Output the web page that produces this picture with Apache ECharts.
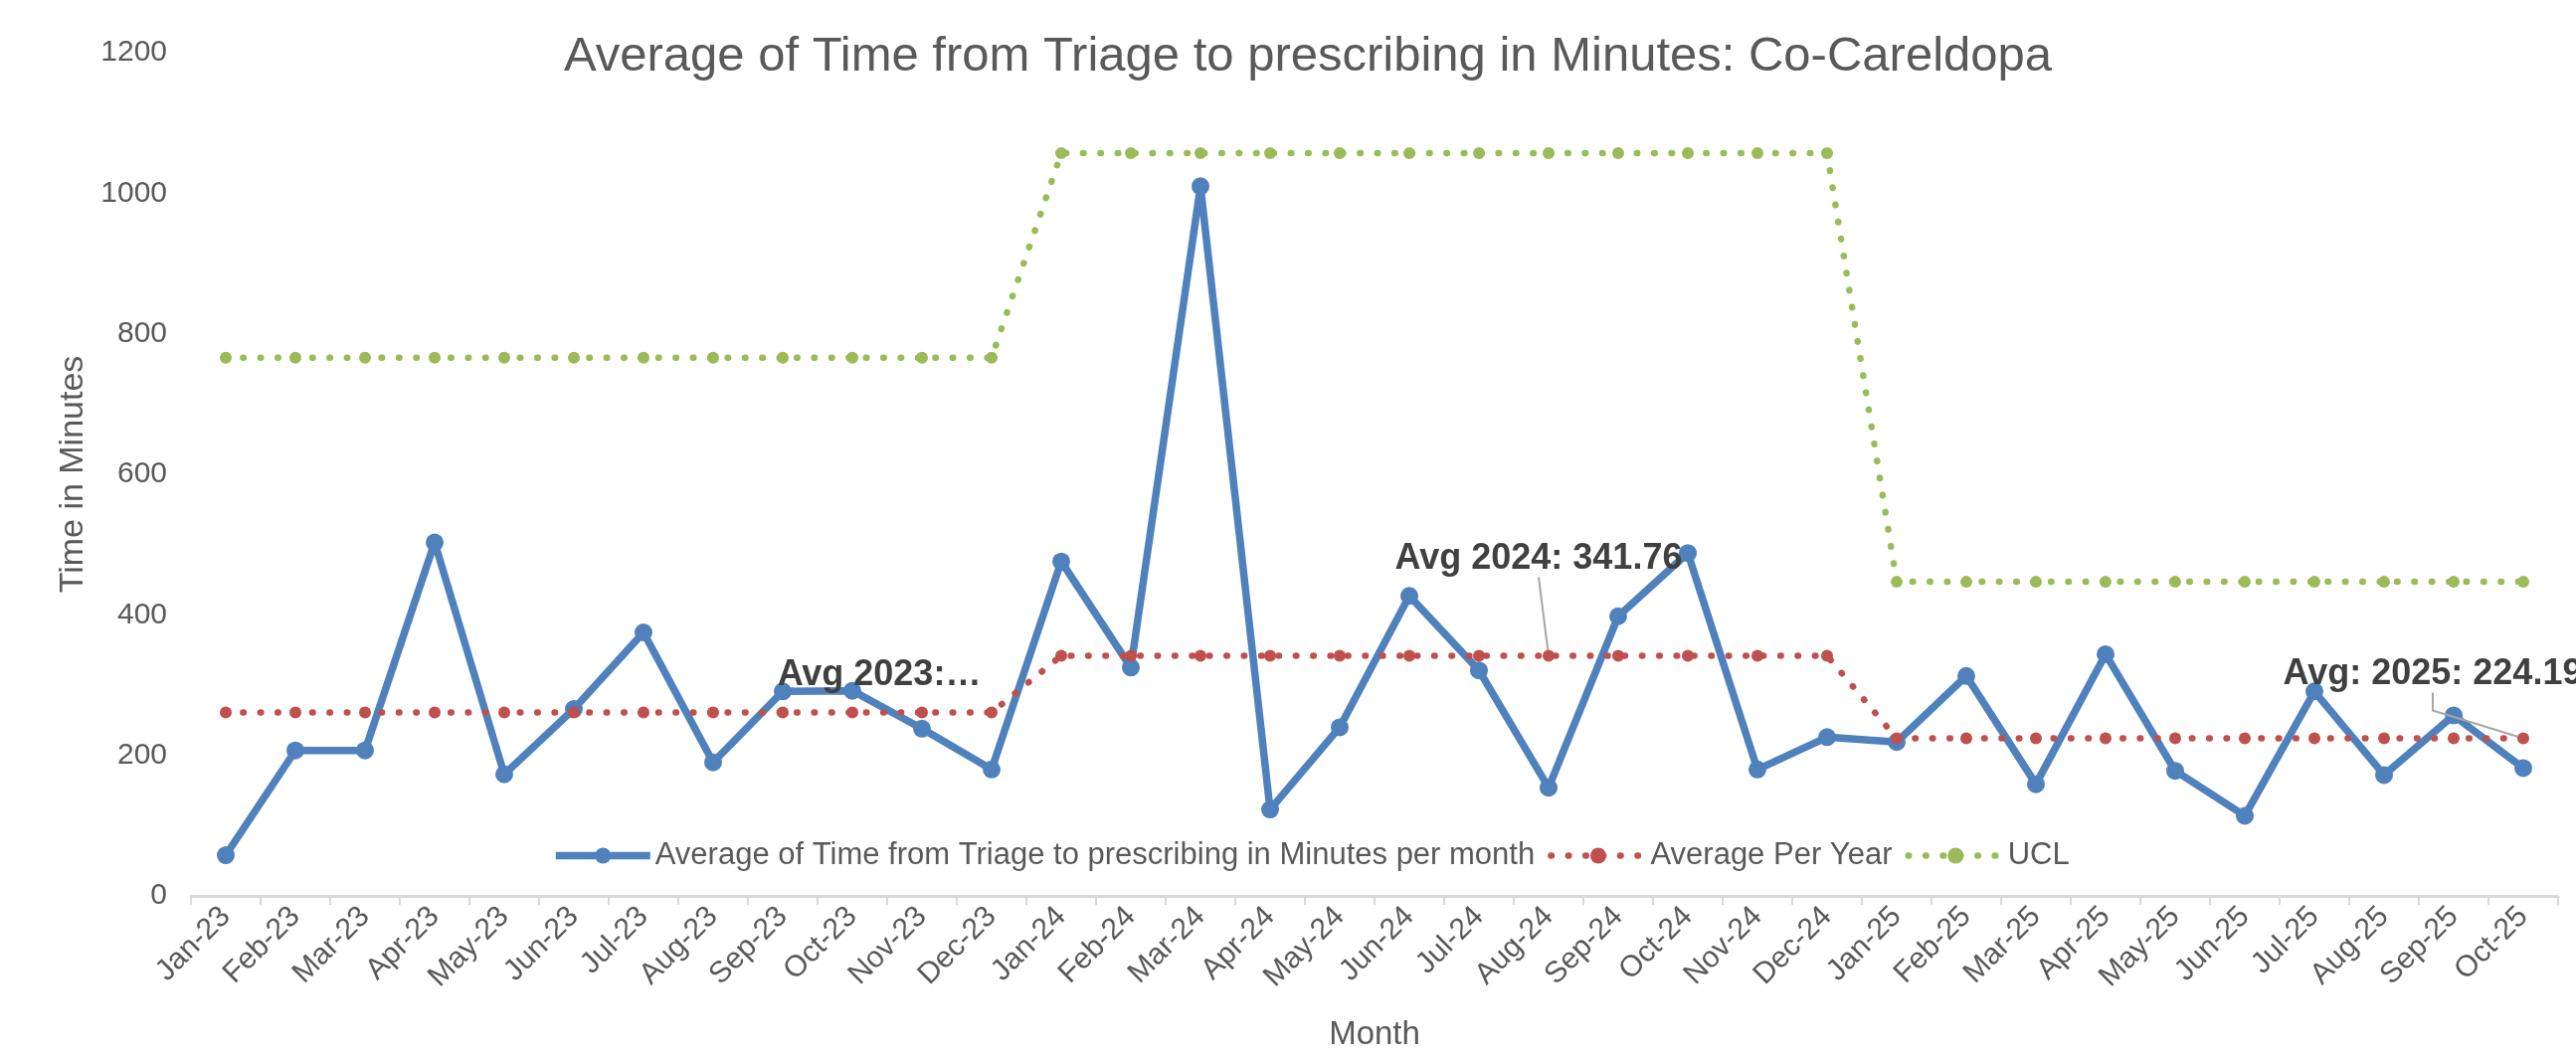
<!DOCTYPE html>
<html>
<head>
<meta charset="utf-8">
<script src="https://cdn.jsdelivr.net/npm/echarts@6/dist/echarts.min.js"></script>
<style>
html,body{margin:0;padding:0;background:#fff;}
#chart{width:2590px;height:1064px;}
</style>
</head>
<body>
<div id="chart"></div>
<script>
// ---- data ----
var months = ['Jan-23','Feb-23','Mar-23','Apr-23','May-23','Jun-23','Jul-23','Aug-23','Sep-23','Oct-23','Nov-23','Dec-23',
              'Jan-24','Feb-24','Mar-24','Apr-24','May-24','Jun-24','Jul-24','Aug-24','Sep-24','Oct-24','Nov-24','Dec-24',
              'Jan-25','Feb-25','Mar-25','Apr-25','May-25','Jun-25','Jul-25','Aug-25','Sep-25','Oct-25'];
var monthlyAvg = [58, 207, 207, 503, 173, 266, 375, 190, 291, 292, 238, 180,
                  476, 325, 1010, 123, 240, 427, 321, 154, 398, 488, 180, 226,
                  219, 313, 159, 344, 178, 114, 291, 172, 257, 182];
var yearAvg = [261, 261, 261, 261, 261, 261, 261, 261, 261, 261, 261, 261,
               341.76, 341.76, 341.76, 341.76, 341.76, 341.76, 341.76, 341.76, 341.76, 341.76, 341.76, 341.76,
               224.19, 224.19, 224.19, 224.19, 224.19, 224.19, 224.19, 224.19, 224.19, 224.19];
var ucl = [766, 766, 766, 766, 766, 766, 766, 766, 766, 766, 766, 766,
           1057, 1057, 1057, 1057, 1057, 1057, 1057, 1057, 1057, 1057, 1057, 1057,
           447, 447, 447, 447, 447, 447, 447, 447, 447, 447];
var yTicks = [0, 200, 400, 600, 800, 1000, 1200];
var seriesNames = ['Average of Time from Triage to prescribing in Minutes per month', 'Average Per Year', 'UCL'];
var annotIndex = [9, 19, 33];
var annotText = ['Avg 2023:\u2026', 'Avg 2024: 341.76', 'Avg: 2025: 224.19'];
var annotShift = [[27, -37], [-10, -97], [-91, -64]];
var annotLine = [false, true, true];
var annotLineLen2 = [0, 0, 18];

var FONT = "'Liberation Sans', Arial, sans-serif";
var TXT = '#595959';

var yearData = yearAvg.map(function (v, i) {
  var k = annotIndex.indexOf(i);
  if (k < 0) return v;
  return {
    value: v,
    label: {
      show: true, position: 'inside', formatter: annotText[k],
      fontFamily: FONT, fontSize: 36, fontWeight: 'bold', color: '#404040'
    },
    labelLine: { show: annotLine[k], length2: annotLineLen2[k], lineStyle: { color: '#A6A6A6', width: 2 } }
  };
});

var chart = echarts.init(document.getElementById('chart'), null, { renderer: 'canvas' });
chart.setOption({
  backgroundColor: '#ffffff',
  animation: false,
  title: {
    text: 'Average of Time from Triage to prescribing in Minutes: Co-Careldopa',
    left: 1310, top: 28, textAlign: 'center',
    textStyle: { fontFamily: FONT, fontSize: 49, fontWeight: 'normal', color: TXT }
  },
  legend: {
    data: seriesNames,
    left: 550, top: 840,
    itemWidth: 95, itemHeight: 20, itemGap: 13,
    lineStyle: { width: 'inherit' },
    textStyle: { fontFamily: FONT, fontSize: 31, color: TXT }
  },
  grid: { left: 192, right: 18, top: 53, bottom: 163, containLabel: false },
  xAxis: {
    type: 'category', data: months, boundaryGap: true,
    name: 'Month', nameLocation: 'middle', nameGap: 123,
    nameTextStyle: { fontFamily: FONT, fontSize: 33, color: TXT },
    axisLine: { lineStyle: { color: '#D9D9D9', width: 3 } },
    axisTick: { show: true, length: 9, lineStyle: { color: '#D9D9D9', width: 2 } },
    axisLabel: { rotate: 45, interval: 0, margin: 16, fontFamily: FONT, fontSize: 30, color: TXT },
    splitLine: { show: false }
  },
  yAxis: {
    type: 'value', min: yTicks[0], max: yTicks[yTicks.length - 1], interval: 200,
    name: 'Time in Minutes', nameLocation: 'middle', nameGap: 101,
    nameTextStyle: { fontFamily: FONT, fontSize: 34, color: TXT },
    axisLine: { show: false }, axisTick: { show: false },
    axisLabel: { margin: 24, fontFamily: FONT, fontSize: 30, color: TXT,
                 formatter: function (v) { return String(v); } },
    splitLine: { show: false }
  },
  series: [
    {
      name: seriesNames[0], type: 'line', data: monthlyAvg,
      symbol: 'circle', symbolSize: 18,
      itemStyle: { color: '#4F81BD' },
      lineStyle: { color: '#4F81BD', width: 7.5 },
      z: 2
    },
    {
      name: seriesNames[1], type: 'line', data: yearData,
      symbol: 'circle', symbolSize: 12,
      itemStyle: { color: '#C0504D' },
      lineStyle: { color: '#C0504D', width: 6.5, type: [0.5, 16.9], cap: 'round' },
      labelLayout: function (p) {
        var k = annotIndex.indexOf(p.dataIndex);
        if (k < 0) return {};
        return { dx: annotShift[k][0], dy: annotShift[k][1] };
      },
      z: 3
    },
    {
      name: seriesNames[2], type: 'line', data: ucl,
      symbol: 'circle', symbolSize: 12,
      itemStyle: { color: '#9BBB59' },
      lineStyle: { color: '#9BBB59', width: 6.5, type: [0.5, 16.9], cap: 'round' },
      z: 4
    }
  ]
});
</script>
</body>
</html>
